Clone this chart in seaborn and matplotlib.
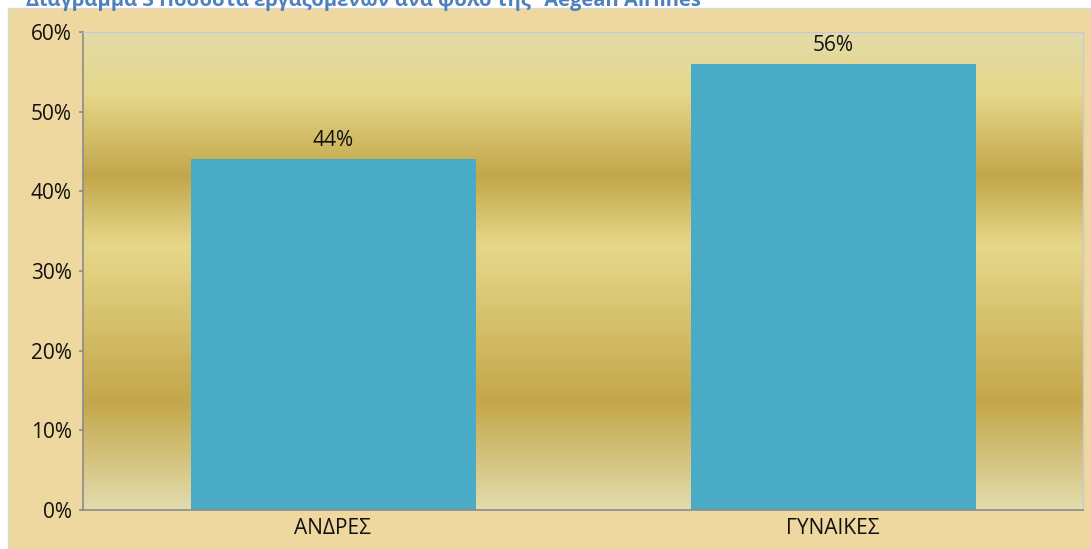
import numpy as np
import pandas as pd
import matplotlib
matplotlib.use("Agg")
import matplotlib.pyplot as plt
import seaborn as sns
from matplotlib.colors import LinearSegmentedColormap
from matplotlib.patches import Rectangle

categories = ["ΑΝΔΡΕΣ", "ΓΥΝΑΙΚΕΣ"]
values = [44, 56]
value_labels = ["44%", "56%"]
yticks = [0, 10, 20, 30, 40, 50, 60]
ytick_labels = ["0%", "10%", "20%", "30%", "40%", "50%", "60%"]
title = "Διάγραμμα 3 Ποσοστά εργαζομένων ανά φύλο της \"Aegean Airlines\""

sns.set_theme(style="white")
plt.rcParams['font.family'] = ['Open Sans', 'DejaVu Sans']

W, H = 1091, 549
fig = plt.figure(figsize=(W / 100, H / 100), dpi=100)
fig.patch.set_facecolor("white")

# papyrus background
bg = Rectangle((8 / W, 0), 1 - 8 / W, 1 - 8 / H, transform=fig.transFigure,
               facecolor="#efd7a0", edgecolor="#d8d8d8", linewidth=1, zorder=-5)
fig.patches.append(bg)

ax = fig.add_axes([83 / W, (H - 510) / H, 1000 / W, 478 / H])
ax.set_zorder(1)

# gold gradient in plot area
stops = [(0.0, "#e3dcae"), (0.225, "#c4a74a"), (0.553, "#e6d88a"),
         (0.70, "#c2a64a"), (0.875, "#e6d88a"), (1.0, "#e3dba8")]
cmap = LinearSegmentedColormap.from_list("gold", stops)
grad = np.linspace(0, 1, 512).reshape(-1, 1)
ax.imshow(grad, aspect="auto", cmap=cmap, origin="lower", extent=[0, 1, 0, 1],
          transform=ax.transAxes, zorder=0, interpolation="bilinear")

df = pd.DataFrame({"cat": categories, "val": values})
sns.barplot(data=df, x="cat", y="val", color="#49abc6", saturation=1, width=0.57,
            linewidth=0, edgecolor="none", ax=ax, zorder=2)

for i, (v, lab) in enumerate(zip(values, value_labels)):
    ax.annotate(lab, (i, v), xytext=(0, 6), textcoords="offset points", ha="center", va="bottom",
                fontsize=15, color="#111111")

ax.set_xlim(-0.5, 1.5)
ax.set_ylim(0, 60)
ax.set_yticks(yticks)
ax.set_yticklabels(ytick_labels, fontsize=15, color="#111111")
ax.tick_params(axis="x", labelsize=15, colors="#111111", length=0, pad=6)
ax.tick_params(axis="y", length=3, color="#8c8c8c", left=True, pad=5)
ax.set_xlabel("")
ax.set_ylabel("")
ax.grid(False)
ax.set_facecolor("none")
for s in ["top", "right"]:
    ax.spines[s].set_color("#c3cbd6")
    ax.spines[s].set_linewidth(1)
for s in ["left", "bottom"]:
    ax.spines[s].set_color("#8c8c8c")
    ax.spines[s].set_linewidth(1.2)

fig.text(26 / W, 1 - 6 / H, title, ha="left", va="baseline", fontsize=14.5,
         fontweight="bold", color="#4f81bd")

fig.savefig("out.png", dpi=100)
